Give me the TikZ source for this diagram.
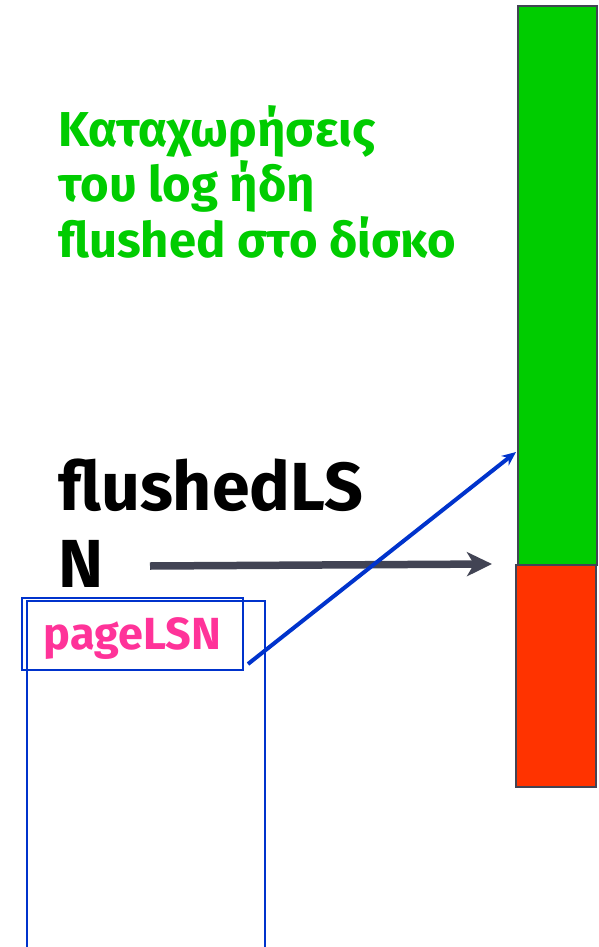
\documentclass[tikz,border=0pt]{standalone}
\usepackage{fontspec}
\setmainfont{Fira Sans}
\usepackage{xcolor}
\definecolor{green_log}{RGB}{0,204,0}
\definecolor{red_log}{RGB}{255,51,0}
\definecolor{grey_bar}{RGB}{66,68,84}
\definecolor{blue_page}{RGB}{0,51,204}
\definecolor{pink_lsn}{RGB}{255,51,153}
\usetikzlibrary{arrows.meta,positioning}

\begin{document}
\begin{tikzpicture}
[
    x = 1pt, y = -1pt,
    logbar/.style = {draw = grey_bar, line width = 2pt, outer sep = 0pt, inner sep = 0pt},
    pageframe/.style = {draw = blue_page, line width = 2pt, outer sep = 0pt},
    txt/.style = {font = \bfseries, inner sep = 0pt, anchor = base west, align = left},
    flushptr/.style = {-{Stealth[length = 25pt, width = 24pt, inset = 7pt]}, line width = 7.5pt, draw = grey_bar},
    pageptr/.style = {-{Stealth[length = 14pt, width = 12pt]}, line width = 4pt, draw = blue_page}
]
\useasboundingbox (0,0) rectangle (598,947);

% the log
\node[logbar, fill = green_log, minimum width = 79, minimum height = 559] (flushed) at (557.5,285.5) {};
\node[logbar, fill = red_log, minimum width = 80, minimum height = 222] (unflushed) at (556,676) {};

% texts (base = last line)
\node[txt, text = green_log, font = \fontsize{49}{55.5}\selectfont\bfseries] (flushedtxt) at (58,257)
    {Καταχωρήσεις\\του log ήδη\\flushed στο δίσκο};
\node[txt, font = \fontsize{68}{77}\selectfont\bfseries] (lsn) at (58,587) {flushedLS\\N};

% the page
\draw[pageframe] (27,950) -- (27,601) -- (265,601) -- (265,950);
\node[pageframe, text = pink_lsn, font = \fontsize{45}{50}\selectfont\bfseries,
      minimum width = 221, minimum height = 72, inner sep = 0pt,
      text height = 31pt, text depth = 0pt] (pagelsn) at (132.5,634) {pageLSN};

% pointers
\coordinate (lsntail) at (150,566);
\draw[flushptr] (lsntail) -- ([shift = {(-26,-1)}]flushed.south west);
\draw[pageptr] ([shift = {(5,-6)}]pagelsn.south east) -- ([shift = {(-2,-113)}]flushed.south west);
\end{tikzpicture}
\end{document}
